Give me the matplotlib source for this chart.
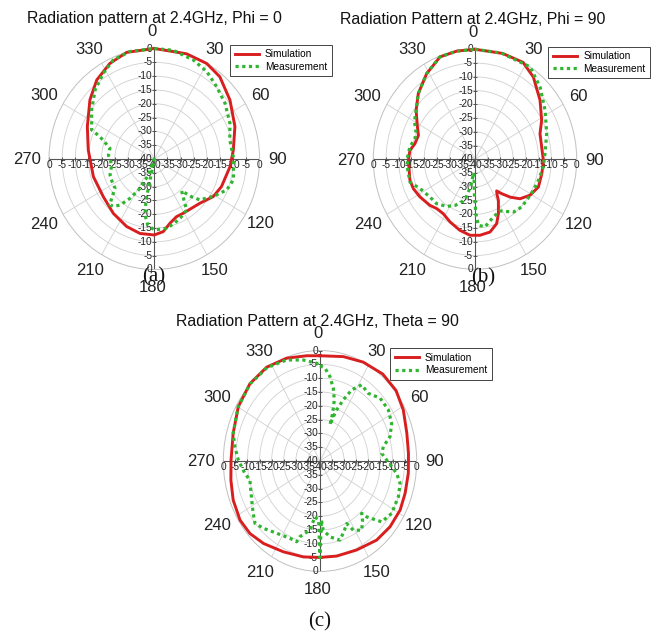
import numpy as np
import matplotlib
matplotlib.use('Agg')
import matplotlib.pyplot as plt
from matplotlib.transforms import offset_copy

W, H = 659, 635
fig = plt.figure(figsize=(W / 100, H / 100), dpi=100)
SANS = ['Liberation Sans', 'DejaVu Sans']
SERIF = ['Liberation Serif', 'DejaVu Serif']

RED = '#d81e1e'
GREEN = '#2fb52f'

ring_values = [-40, -35, -30, -25, -20, -15, -10, -5, 0]
angle_ticks = list(range(0, 360, 30))

# ---------- (a) Phi = 0 ----------
a_sim_theta = [0, 17.8, 29.9, 39.9, 53.4, 69, 83.8, 95.5, 111.4, 121.3, 132.7, 150.8, 157.9,
               165.6, 172.6, 180, 191.4, 203.3, 218.3, 234.8, 254.5, 277.4, 294.7, 311.2,
               322.6, 334, 344.8, 360]
a_sim_db = [0, 0, -0.1, -1.2, -4.2, -7.2, -9.8, -11.1, -12.6, -13.8, -16.4, -17.5, -17.5,
            -16, -13.5, -12.5, -12.5, -13.4, -14.9, -16.3, -16, -14.7, -12, -7.5,
            -4, -1.5, 0, 0]
a_mea_theta = [0, 10.3, 22.4, 32.2, 42.1, 53.1, 65.8, 76.5, 88.5, 104, 112.2, 121, 130.5, 134,
               138, 142, 146.4, 155, 162, 169.4, 180, 186, 190, 192, 196, 201, 207, 213,
               218, 222, 225.3, 228.7, 234.6, 243, 251, 262.4, 274.7, 283, 291.4, 293.8,
               306.7, 318, 328, 336.5, 346.6, 360]
a_mea_db = [0, 0, -1.2, -2.6, -4.7, -6.4, -8.5, -10.5, -10, -9, -10.3, -13.8, -17.2, -20.3,
            -24.5, -22, -17.8, -16.5, -15.5, -14.5, -14.3, -16, -19.5, -25, -40, -34, -28, -23,
            -18.8, -17, -16.3, -18.4, -21.7, -22, -22.2, -23.7, -22.5, -22.7, -17.8, -14,
            -10.3, -6.4, -3.4, -0.9, 0, 0]

# ---------- (b) Phi = 90 ----------
b_sim_theta = [0, 15.7, 28.2, 37.5, 50, 61.6, 70, 80.3, 90.8, 101.2, 112, 121, 129, 134.7, 140,
               143.5, 146, 148.3, 155, 160, 167.4, 176, 184, 193, 203.3, 212.2, 220, 226.7,
               237.7, 246.3, 253.4, 269.2, 277.3, 283.5, 291.4, 297.4, 307.5, 317, 328.6,
               339.7, 349.7, 360]
b_sim_db = [0, 0, 0, -2.3, -6.6, -10.2, -12.8, -13.4, -13.1, -13.2, -13.1, -14.7, -17.2, -20.4,
            -23.7, -25.7, -24.5, -22.5, -18.2, -15.1, -12.9, -12.3, -12.3, -13.5, -15.2, -16.6,
            -16.6, -15.6, -14.4, -13.5, -13.3, -13.8, -14.2, -15.7, -16.1, -14.5, -10.8, -7.3,
            -3.5, -0.3, 0, 0]
b_mea_theta = [0, 15, 32.8, 44.2, 57.2, 71.7, 85.7, 96, 107, 116, 126, 133.3, 138.5, 141.8, 152.4,
               161, 171, 176.9, 179, 181, 183, 186, 190, 194, 198.7, 205, 213, 223, 232.3,
               243.7, 252, 264, 272, 280, 287.7, 293, 300, 307.5, 317, 328.6, 339.7, 349.7, 360]
b_mea_db = [0, 0, 0, -3.3, -7.2, -10.3, -12.4, -13, -13.9, -14.4, -14.8, -14.8, -15.2, -15.6,
            -18.8, -17.8, -15.1, -16, -20.2, -27, -33, -35, -30, -26, -23.6, -21.5, -19.6,
            -17.9, -17.6, -15.9, -13.1, -13.2, -13.5, -14, -15.2, -14.8, -12.5, -10.8, -7.3,
            -3.5, -0.3, 0, 0]

# ---------- (c) Theta = 90 ----------
c_sim_theta = [0, 14.3, 26.5, 39.5, 51, 61.8, 74.4, 85.7, 97, 108.4, 118.2, 129.4, 140.7, 154.8,
               168.7, 180, 191.2, 204.8, 218, 227.8, 237.1, 248.5, 259.4, 270.6, 285.6, 300.2,
               314, 327, 339.6, 351.7, 360]
c_sim_db = [-1.9, -1.0, 0, 0.8, 0.5, -0.9, -2.7, -3.3, -3.2, -2.9, -2.4, -2.5, -3, -4.4,
            -4.9, -5.1, -4.6, -3.8, -2.1, -0.9, -0.6, -1.4, -2.5, -3.2, -2.7, -0.9,
            0.3, 0.5, -0.3, -1.5, -1.9]
c_mea_theta = [0, 3.5, 7.7, 11.8, 15, 16.9, 17.5, 18.5, 20.4, 23.5, 27, 32, 39.2, 47.5, 56.8,
               65.3, 73, 78.8, 83.8, 89.3, 98, 103.7, 111.7, 122.6, 130.8, 136.3, 137.7, 141,
               145.5, 151.2, 154, 158, 163.9, 171.4, 176.9, 178.5, 180, 181.5, 185.9, 189.4,
               196.8, 198.3, 203.9, 214.4, 223.9, 230, 235.6, 243.4, 256.6, 261.8, 270.6,
               278.4, 285.6, 300, 314, 327, 339.3, 349.3, 357.8, 360]
c_mea_db = [-5.5, -6.3, -9.2, -13.1, -17.1, -22, -26.3, -24, -20.3, -15.9, -11.1, -7.5, -8.4,
            -6.3, -6.2, -7.4, -9.7, -13.3, -14.3, -12.4, -8, -5.9, -5.1, -4.8, -6.3, -12, -14.4,
            -12, -9.6, -11.4, -14.8, -13, -10.2, -12.2, -14.9, -18.6, -5, -18.5, -19.7, -14.7,
            -11.4, -9.2, -9.4, -8.3, -6.2, -4.9, -6.5, -8.4, -10.2, -8.6, -6.2,
            -4.4, -2.7, -0.9, 0.2, 0.3, -0.9, -2.8, -4.6, -5.5]

series_labels = ['Simulation', 'Measurement']


def make_panel(cx, cy, rx, ry, title, title_xy, sim_t, sim_r, mea_t, mea_r, leg_xy, tag, tag_xy):
    ax = fig.add_axes([(cx - rx) / W, 1 - (cy + ry) / H, 2 * rx / W, 2 * ry / H],
                      projection='polar')
    ax.set_aspect('auto')
    ax.set_theta_zero_location('N')
    ax.set_theta_direction(-1)
    ax.set_ylim(-40, 0)
    ax.set_yticks(ring_values[1:-1])
    ax.set_yticklabels([])
    ax.set_xticks(np.deg2rad(angle_ticks))
    ax.set_xticklabels([])
    ax.grid(True, color='#d0d0d0', lw=0.6)
    ax.spines['polar'].set_color('#c0c0c0')
    ax.spines['polar'].set_linewidth(0.7)

    # angle labels placed just outside the (elliptical) outer ring
    for a in angle_ticks:
        t = np.deg2rad(a)
        px = cx - 2 + (rx + 20) * np.sin(t)
        py = cy + 1 - (ry + 17.5) * np.cos(t)
        fig.text(px / W, 1 - py / H, str(a), ha='center', va='center', fontsize=12,
                 family=SANS, color='#222222')

    # dark axes through centre
    for th in (0, np.pi / 2, np.pi, 3 * np.pi / 2):
        ax.plot([th, th], [-40, 0], color='#555555', lw=0.8, zorder=2)
    ax.plot(np.zeros(8), ring_values[1:], ls='none', marker='_', ms=3.5, mew=0.7,
            color='#555555', zorder=2)
    ax.plot(np.full(8, np.pi), ring_values[1:], ls='none', marker='_', ms=3.5, mew=0.7,
            color='#555555', zorder=2)
    ax.plot(np.full(8, np.pi / 2), ring_values[1:], ls='none', marker='|', ms=3.5, mew=0.7,
            color='#555555', zorder=2)
    ax.plot(np.full(8, 3 * np.pi / 2), ring_values[1:], ls='none', marker='|', ms=3.5, mew=0.7,
            color='#555555', zorder=2)

    # radial labels
    tv = offset_copy(ax.transData, fig=fig, x=-2, y=0, units='dots')
    th_ = offset_copy(ax.transData, fig=fig, x=0, y=-1, units='dots')
    for r in ring_values:
        lab = '%d' % r
        ax.text(0, r, lab, transform=tv, ha='right', va='center', fontsize=7.3,
                family=SANS, color='#222222', zorder=3)
        ax.text(3 * np.pi / 2, r, lab, transform=th_, ha='center', va='top', fontsize=7.3,
                family=SANS, color='#222222', zorder=3)
    for r in ring_values[1:]:
        lab = '%d' % r
        ax.text(np.pi, r, lab, transform=tv, ha='right', va='center', fontsize=7.3,
                family=SANS, color='#222222', zorder=3)
        ax.text(np.pi / 2, r, lab, transform=th_, ha='center', va='top', fontsize=7.3,
                family=SANS, color='#222222', zorder=3)

    l1, = ax.plot(np.deg2rad(sim_t), sim_r, color=RED, lw=2.1, zorder=5, clip_on=False,
                  label=series_labels[0])
    l2, = ax.plot(np.deg2rad(mea_t), mea_r, color=GREEN, lw=2.3, ls=(0, (1, 1.1)),
                  dash_capstyle='butt', zorder=6, clip_on=False, label=series_labels[1])

    leg = ax.legend(handles=[l1, l2], loc='upper left',
                    bbox_to_anchor=(leg_xy[0] / W, 1 - leg_xy[1] / H),
                    bbox_transform=fig.transFigure, borderaxespad=0, fancybox=False,
                    framealpha=1, edgecolor='#444444', prop={'family': SANS, 'size': 7.3},
                    handlelength=2.4, handletextpad=0.6, labelspacing=0.25, borderpad=0.45)
    leg.get_frame().set_linewidth(0.7)
    leg.set_zorder(10)

    fig.text(title_xy[0] / W, 1 - title_xy[1] / H, title, ha='center', va='center',
             fontsize=11.4, family=SANS, color='#111111')
    fig.text(tag_xy[0] / W, 1 - tag_xy[1] / H, tag, ha='center', va='center',
             fontsize=15, family=SERIF, color='#111111')
    return ax


make_panel(154.3, 159, 105.3, 110.5, 'Radiation pattern at 2.4GHz, Phi = 0', (154.5, 18),
           a_sim_theta, a_sim_db, a_mea_theta, a_mea_db, (230, 44.5), '(a)', (154, 277))
make_panel(475, 159.3, 101.7, 110, 'Radiation Pattern at 2.4GHz, Phi = 90', (472.5, 19.5),
           b_sim_theta, b_sim_db, b_mea_theta, b_mea_db, (548.3, 46.7), '(b)', (483, 278))
make_panel(320, 461, 96.7, 110.5, 'Radiation Pattern at 2.4GHz, Theta = 90', (317, 321.5),
           c_sim_theta, c_sim_db, c_mea_theta, c_mea_db, (390, 348.3), '(c)', (320, 622))

fig.savefig('out.png', dpi=100, facecolor='white')
